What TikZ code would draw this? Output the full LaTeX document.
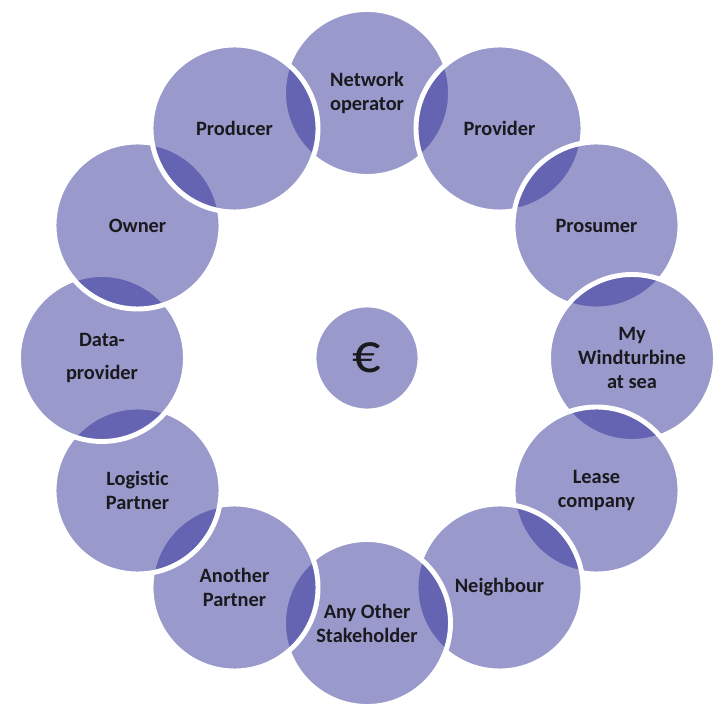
\documentclass[tikz,border=0pt]{standalone}
\usepackage{fontspec}
\setmainfont{Carlito}[Ligatures={NoCommon}]
\usetikzlibrary{positioning}
\definecolor{ringfill}{RGB}{42,42,149}
\definecolor{labeltext}{RGB}{25,25,30}

\tikzset{
  party/.style={circle, minimum size=4.175cm, inner sep=0pt, fill=ringfill, fill opacity=0.48,
    text opacity=1, draw=white, draw opacity=1, line width=3.5pt, align=center,
    text=labeltext, font=\fontsize{14.5}{17}\selectfont\bfseries},
  hub/.style={party, minimum size=2.6cm, line width=2pt, font=\fontsize{40}{40}\selectfont}
}

\begin{document}
\begin{tikzpicture}
    \useasboundingbox (-9.175,-9.075) rectangle (8.85,8.95);
    % Centre
    \node[hub] (euro) at (0,0) {€};
    % Ring of stakeholders, each one laid over the one before it
    \foreach \ang/\name/\txt in {90/netop/{Network\\operator}, 60/provider/Provider,
        30/prosumer/Prosumer, 0/windturbine/{My\\Windturbine\\at sea},
        -30/lease/{Lease\\company}, -60/neighbour/Neighbour,
        -90/anyother/{Any Other\\Stakeholder}, -120/another/{Another\\Partner},
        -150/logistic/{Logistic\\Partner}, -180/dataprov/{Data-\\[6pt]provider},
        -210/owner/Owner, -240/producer/Producer}
      \node[party] (\name) at (\ang:6.625) {\txt};
\end{tikzpicture}
\end{document}
